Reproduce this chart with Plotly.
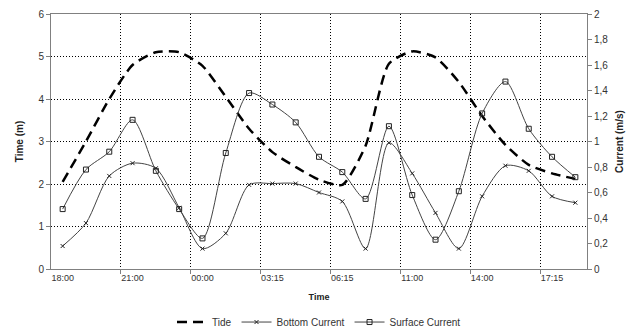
import plotly.graph_objects as go

# Category labels (every third category is labelled)
tick_labels = ["18:00", "21:00", "00:00", "03:15", "06:15", "11:00", "14:00", "17:15"]
n_points = 23
label_step = 3

# Tide level (m)
tide = [2.05, 3.0, 4.0, 4.8, 5.1, 5.1, 4.78, 4.05, 3.3, 2.75, 2.4, 2.1, 1.98,
        2.9, 4.83, 5.12, 4.98, 4.4, 3.6, 2.92, 2.45, 2.25, 2.12]
# Bottom current (m/s)
bottom_current = [0.18, 0.36, 0.73, 0.83, 0.79, 0.48, 0.16, 0.28, 0.66, 0.67, 0.67, 0.60,
                  0.53, 0.16, 0.99, 0.75, 0.44, 0.16, 0.57, 0.81, 0.77, 0.57, 0.52]
# Surface current (m/s)
surface_current = [0.47, 0.78, 0.92, 1.17, 0.77, 0.47, 0.24, 0.91, 1.38, 1.29, 1.15, 0.88,
                   0.76, 0.55, 1.12, 0.58, 0.23, 0.61, 1.22, 1.47, 1.10, 0.88, 0.72]

x = list(range(n_points))
label_pos = list(range(0, n_points, label_step))[:len(tick_labels)]
boundary_pos = [p - 0.5 for p in label_pos if p > 0]

font_family = "Liberation Sans, Arial, sans-serif"
line_col = "#444444"
grid_dash = "1px,2px"

fig = go.Figure()
fig.add_trace(go.Scatter(
    x=x, y=tide, name="Tide", mode="lines",
    line=dict(color="black", width=2.5, dash="10px,6px", shape="spline", smoothing=0.6),
    yaxis="y"))
fig.add_trace(go.Scatter(
    x=x, y=bottom_current, name="Bottom Current", mode="lines+markers",
    line=dict(color=line_col, width=1, shape="spline", smoothing=0.8),
    marker=dict(symbol="x-thin", size=4, line=dict(color="#222222", width=1), color="#222222"),
    yaxis="y2"))
fig.add_trace(go.Scatter(
    x=x, y=surface_current, name="Surface Current", mode="lines+markers",
    line=dict(color=line_col, width=1, shape="spline", smoothing=0.8),
    marker=dict(symbol="square-open", size=5, color="#222222", line=dict(width=1)),
    yaxis="y2"))

fig.update_layout(
    width=641, height=331,
    margin=dict(l=51, r=54, t=14, b=62, autoexpand=False),
    paper_bgcolor="white", plot_bgcolor="white",
    separators=",.",
    font=dict(family=font_family, size=9, color="#333333"),
    showlegend=True,
    legend=dict(orientation="h", x=0.5, xanchor="center", y=-0.208, yanchor="middle",
                font=dict(size=10, color="#333333"), itemwidth=30, tracegroupgap=0),
    xaxis=dict(
        range=[-0.5, n_points - 0.5],
        tickmode="array", tickvals=label_pos, ticktext=tick_labels,
        ticks="", showgrid=False, zeroline=False,
        showline=True, linecolor="#808080", linewidth=1, mirror=True,
        tickfont=dict(size=9, color="#333333"),
        title=dict(text="<b>Time</b>", font=dict(size=9, color="#222222"), standoff=11),
        minor=dict(tickmode="array", tickvals=boundary_pos, ticks="outside", ticklen=4,
                   tickcolor="#808080", showgrid=True, gridcolor="black",
                   griddash=grid_dash, gridwidth=1),
    ),
    yaxis=dict(
        range=[0, 6], dtick=1, tick0=0,
        ticks="outside", ticklen=4, tickcolor="#808080",
        showgrid=True, gridcolor="black", griddash=grid_dash, gridwidth=1,
        zeroline=False, showline=True, linecolor="#808080", linewidth=1,
        tickfont=dict(size=10, color="#333333"),
        title=dict(text="<b>Time (m)</b>", font=dict(size=10, color="#222222"), standoff=12),
    ),
    yaxis2=dict(
        range=[0, 2], dtick=0.2, tick0=0, overlaying="y", side="right",
        ticks="outside", ticklen=4, tickcolor="#808080",
        showgrid=False, zeroline=False, showline=True, linecolor="#808080", linewidth=1,
        tickfont=dict(size=10, color="#333333"),
        title=dict(text="<b>Current (m/s)</b>", font=dict(size=10, color="#222222"), standoff=8),
    ),
)

fig.write_html("out.html")
